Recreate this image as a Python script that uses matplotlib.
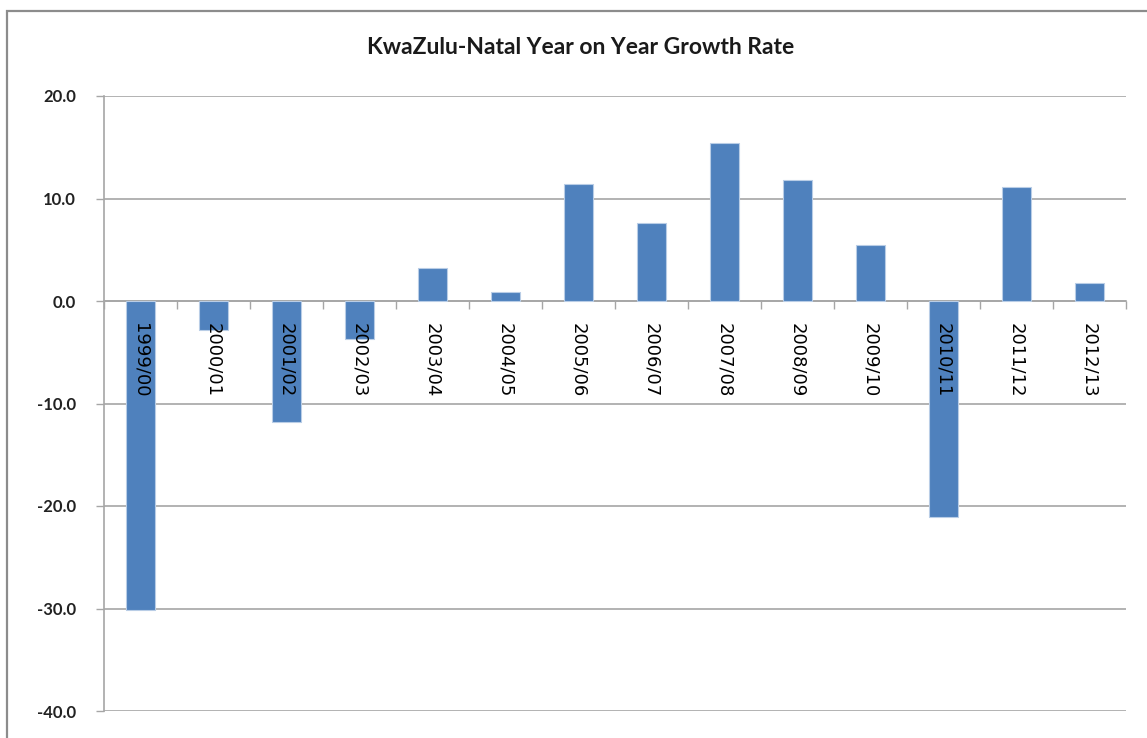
import matplotlib
matplotlib.use("Agg")
import matplotlib.pyplot as plt
import matplotlib.transforms as mtransforms
from matplotlib.patches import Rectangle

# Year-on-year growth rate (%) per financial year
years = ["1999/00", "2000/01", "2001/02", "2002/03", "2003/04", "2004/05",
         "2005/06", "2006/07", "2007/08", "2008/09", "2009/10", "2010/11",
         "2011/12", "2012/13"]
growth = [-30.1, -2.8, -11.8, -3.7, 3.2, 0.9, 11.4, 7.6, 15.4, 11.8, 5.5,
          -21.1, 11.1, 1.8]
y_ticks = [20, 10, 0, -10, -20, -30, -40]

W, H, DPI = 1147, 738, 100
fig = plt.figure(figsize=(W / DPI, H / DPI), dpi=DPI)
fig.patch.set_facecolor("white")

# Chart-area frame
fig.patches.append(Rectangle((7 / W, -0.1), 1.2, 1 - 11 / H + 0.1,
                             transform=fig.transFigure, fill=False,
                             edgecolor="#8c8c8c", linewidth=1.6))

ax = fig.add_axes([104 / W, 1 - 711 / H, (1126 - 104) / W, (711 - 96) / H])
grid_col = "#a6a6a6"

x = list(range(len(years)))
ax.bar(x, growth, width=0.41, color="#4f81bd", edgecolor="#b9cde6",
       linewidth=0.8, zorder=3)

ax.set_xlim(-0.5, len(years) - 0.5)
ax.set_ylim(-40, 20)
ax.set_yticks(y_ticks)
ax.set_yticklabels([f"{v:.1f}" for v in y_ticks], fontfamily="Lato",
                   fontweight="bold", fontsize=12, color="#222222")
ax.yaxis.grid(True, color=grid_col, linewidth=1.2, zorder=0)
ax.tick_params(axis="y", length=6, width=1.0, color=grid_col, pad=14)

for s in ("top", "right"):
    ax.spines[s].set_visible(False)
ax.spines["left"].set_color(grid_col)
ax.spines["left"].set_linewidth(1.2)
ax.spines["bottom"].set_position(("data", 0))
ax.spines["bottom"].set_color(grid_col)
ax.spines["bottom"].set_linewidth(1.2)

# category boundary ticks on the zero line
ax.set_xticks([i - 0.5 for i in range(len(years) + 1)])
ax.set_xticklabels([])
ax.tick_params(axis="x", length=6, width=1.0, color=grid_col, direction="out")

# vertical category labels just below the zero line
offset = mtransforms.ScaledTranslation(0, -22 / DPI, fig.dpi_scale_trans)
for i, lab in enumerate(years):
    ax.text(i, 0, lab, rotation=270, ha="center", va="top",
            fontfamily="DejaVu Sans", fontsize=13, color="black",
            transform=ax.transData + offset, zorder=5)

fig.text(581 / W, 1 - 48 / H, "KwaZulu-Natal Year on Year Growth Rate",
         ha="center", va="center", fontfamily="Lato", fontweight="bold",
         fontsize=16.5, color="#1a1a1a")

fig.savefig("out.png", dpi=DPI)
